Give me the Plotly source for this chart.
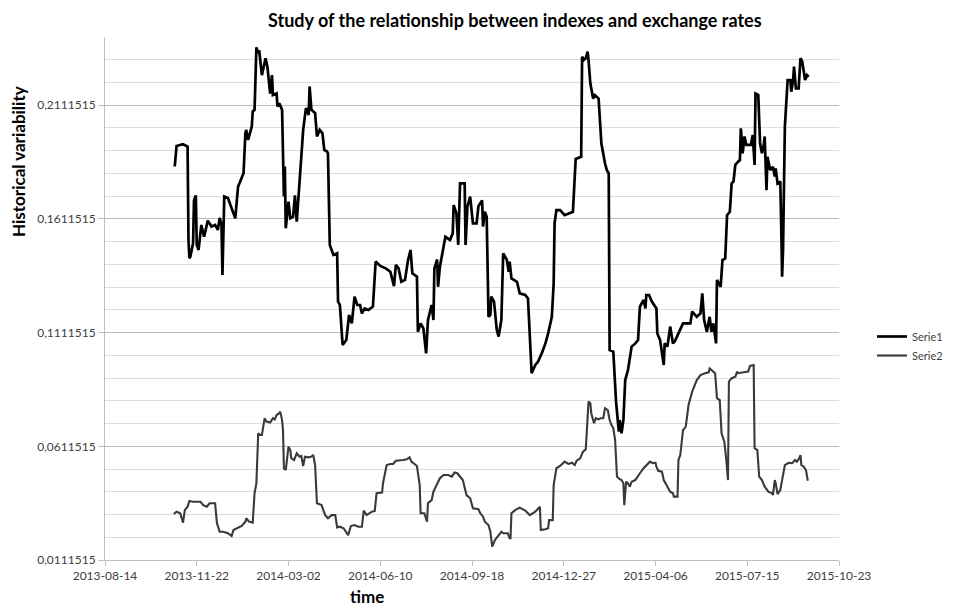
import pandas as pd
import plotly.graph_objects as go

# ---- data ----
start_date = "2013-08-14"

s1_day = [76, 78, 85, 90, 91, 92, 93, 96, 97, 99, 100, 102, 105, 108, 112, 116, 120, 123, 125, 127,
          128, 130, 134, 142, 145, 151, 153, 154, 156, 160, 161, 163, 165, 167, 168, 171, 175, 177, 180, 182,
          183, 187, 188, 190, 193, 194, 195, 196, 197, 200, 202, 205, 207, 209, 211, 214, 216, 219, 222, 223,
          225, 229, 231, 234, 237, 239, 242, 243, 245, 249, 253, 254, 256, 259, 263, 266, 269, 272, 275, 278,
          280, 283, 287, 292, 295, 300, 306, 311, 315, 317, 320, 323, 327, 330, 333, 335, 340, 341, 344, 347,
          350, 352, 356, 358, 359, 362, 363, 365, 371, 376, 379, 380, 383, 385, 387, 392, 393, 395, 398, 401,
          405, 407, 411, 412, 414, 416, 418, 420, 421, 424, 427, 429, 432, 434, 438, 440, 441, 443, 449, 452,
          458, 461, 463, 465, 469, 472, 476, 480, 483, 487, 489, 490, 492, 496, 501, 507, 510, 513, 518, 519,
          520, 522, 524, 526, 527, 529, 532, 534, 538, 540, 541, 545, 547, 549, 550, 554, 557, 560, 561, 563,
          565, 567, 570, 574, 578, 581, 583, 587, 589, 590, 593, 596, 601, 602, 605, 609, 610, 613, 616, 619,
          621, 625, 630, 638, 640, 645, 649, 651, 653, 656, 659, 661, 663, 666, 667, 671, 673, 676, 678, 681,
          683, 685, 687, 690, 692, 693, 695, 697, 699, 701, 704, 706, 708, 709, 712, 714, 716, 718, 719, 721,
          722, 725, 728, 730, 731, 733, 736, 737, 738, 739, 741, 744, 747, 748, 750, 751, 753, 756, 758, 760,
          763, 765, 767]
s1_val = [0.1842, 0.1932, 0.1940, 0.1930, 0.1519, 0.1439, 0.1445, 0.1504, 0.1693, 0.1715, 0.1497, 0.1475, 0.1585, 0.1533, 0.1604, 0.1578, 0.1585, 0.1563, 0.1616, 0.1585,
          0.1365, 0.1710, 0.1703, 0.1614, 0.1753, 0.1812, 0.1988, 0.2003, 0.1959, 0.2018, 0.2084, 0.2091, 0.2366, 0.2340, 0.2354, 0.2244, 0.2318, 0.2281, 0.2163, 0.2244,
          0.2156, 0.2163, 0.2106, 0.2120, 0.2091, 0.1842, 0.1710, 0.1842, 0.1570, 0.1687, 0.1614, 0.1621, 0.1715, 0.1599, 0.1710, 0.1885, 0.2003, 0.2099, 0.2069, 0.2194,
          0.2091, 0.2077, 0.1974, 0.2003, 0.1988, 0.1915, 0.1908, 0.1900, 0.1497, 0.1453, 0.1460, 0.1248, 0.1233, 0.1057, 0.1079, 0.1189, 0.1152, 0.1270, 0.1233, 0.1233,
          0.1196, 0.1218, 0.1211, 0.1226, 0.1424, 0.1405, 0.1394, 0.1379, 0.1316, 0.1409, 0.1394, 0.1335, 0.1343, 0.1424, 0.1475, 0.1372, 0.1357, 0.1115, 0.1152, 0.1130,
          0.1020, 0.1167, 0.1233, 0.1167, 0.1394, 0.1433, 0.1313, 0.1401, 0.1533, 0.1519, 0.1548, 0.1672, 0.1636, 0.1497, 0.1768, 0.1768, 0.1497, 0.1665, 0.1710, 0.1592,
          0.1592, 0.1667, 0.1693, 0.1578, 0.1643, 0.1621, 0.1181, 0.1189, 0.1270, 0.1248, 0.1124, 0.1094, 0.1167, 0.1460, 0.1431, 0.1379, 0.1424, 0.1350, 0.1335, 0.1284,
          0.1277, 0.1262, 0.1124, 0.0933, 0.0969, 0.0984, 0.1020, 0.1064, 0.1108, 0.1181, 0.1328, 0.1592, 0.1650, 0.1650, 0.1628, 0.1636, 0.1643, 0.1875, 0.1882, 0.1885,
          0.2325, 0.2311, 0.2318, 0.2347, 0.2311, 0.2207, 0.2141, 0.2156, 0.2141, 0.2031, 0.1943, 0.1855, 0.1826, 0.1812, 0.1035, 0.1028, 0.0808, 0.0676, 0.0727, 0.0669,
          0.0727, 0.0903, 0.0947, 0.1050, 0.1064, 0.1079, 0.1226, 0.1255, 0.1218, 0.1277, 0.1277, 0.1248, 0.1218, 0.1108, 0.1079, 0.0969, 0.1064, 0.1050, 0.1138, 0.1064,
          0.1072, 0.1108, 0.1152, 0.1152, 0.1204, 0.1181, 0.1196, 0.1284, 0.1167, 0.1115, 0.1181, 0.1115, 0.1152, 0.1064, 0.1343, 0.1313, 0.1431, 0.1438, 0.1628, 0.1643,
          0.1768, 0.1776, 0.1849, 0.1863, 0.1870, 0.2010, 0.1900, 0.1974, 0.1937, 0.1937, 0.1937, 0.1980, 0.1849, 0.2163, 0.2156, 0.1943, 0.1900, 0.1937, 0.1974, 0.1738,
          0.1885, 0.1826, 0.1841, 0.1798, 0.1834, 0.1768, 0.1776, 0.1585, 0.1357, 0.1475, 0.2018, 0.2222, 0.2222, 0.2171, 0.2222, 0.2281, 0.2186, 0.2186, 0.2318, 0.2303,
          0.2222, 0.2244, 0.2237]

s2_day = [75, 78, 82, 85, 87, 90, 92, 96, 104, 107, 111, 114, 120, 122, 125, 129, 134, 138, 140, 144,
          149, 153, 154, 157, 161, 163, 165, 167, 169, 171, 174, 176, 180, 183, 185, 187, 190, 191, 193, 194,
          195, 197, 200, 202, 203, 206, 209, 212, 214, 216, 218, 222, 225, 227, 229, 231, 236, 240, 243, 247,
          251, 253, 256, 260, 263, 265, 268, 272, 276, 280, 282, 285, 291, 294, 296, 302, 303, 307, 311, 314,
          317, 322, 325, 329, 332, 334, 336, 340, 343, 344, 348, 351, 352, 356, 358, 362, 365, 369, 374, 378,
          381, 384, 387, 390, 394, 398, 401, 407, 409, 412, 414, 418, 420, 422, 425, 429, 432, 434, 439, 441,
          442, 443, 447, 452, 458, 463, 469, 474, 475, 480, 483, 484, 488, 489, 492, 496, 501, 505, 509, 512,
          514, 518, 521, 524, 527, 529, 530, 533, 535, 538, 540, 543, 545, 548, 550, 552, 554, 556, 558, 561,
          563, 565, 566, 568, 570, 572, 574, 578, 581, 583, 587, 590, 594, 597, 600, 601, 603, 607, 609, 612,
          616, 619, 620, 624, 625, 627, 630, 633, 636, 638, 640, 645, 649, 654, 658, 659, 663, 665, 667, 670,
          672, 675, 677, 679, 680, 683, 687, 689, 690, 696, 701, 703, 707, 708, 711, 713, 716, 719, 723, 727,
          728, 730, 731, 733, 736, 738, 741, 745, 749, 752, 754, 756, 758, 759, 761, 764, 766]
s2_val = [0.0314, 0.0324, 0.0317, 0.0276, 0.0331, 0.0346, 0.0371, 0.0368, 0.0368, 0.0353, 0.0346, 0.0361, 0.0361, 0.0273, 0.0236, 0.0236, 0.0229, 0.0217, 0.0243, 0.0251,
          0.0261, 0.0280, 0.0295, 0.0280, 0.0276, 0.0405, 0.0449, 0.0669, 0.0661, 0.0661, 0.0735, 0.0720, 0.0716, 0.0735, 0.0730, 0.0749, 0.0757, 0.0764, 0.0727, 0.0683,
          0.0515, 0.0507, 0.0610, 0.0595, 0.0559, 0.0551, 0.0581, 0.0566, 0.0569, 0.0525, 0.0566, 0.0563, 0.0566, 0.0573, 0.0529, 0.0361, 0.0353, 0.0309, 0.0295, 0.0309,
          0.0309, 0.0255, 0.0258, 0.0251, 0.0236, 0.0221, 0.0261, 0.0265, 0.0258, 0.0258, 0.0329, 0.0309, 0.0324, 0.0327, 0.0405, 0.0408, 0.0449, 0.0529, 0.0534, 0.0534,
          0.0548, 0.0548, 0.0551, 0.0554, 0.0563, 0.0544, 0.0537, 0.0525, 0.0441, 0.0317, 0.0317, 0.0280, 0.0361, 0.0375, 0.0412, 0.0449, 0.0471, 0.0485, 0.0485, 0.0478,
          0.0496, 0.0493, 0.0478, 0.0463, 0.0397, 0.0383, 0.0339, 0.0335, 0.0317, 0.0302, 0.0280, 0.0265, 0.0236, 0.0170, 0.0199, 0.0221, 0.0236, 0.0229, 0.0229, 0.0207,
          0.0207, 0.0317, 0.0331, 0.0342, 0.0329, 0.0309, 0.0324, 0.0346, 0.0243, 0.0247, 0.0251, 0.0287, 0.0287, 0.0441, 0.0515, 0.0525, 0.0544, 0.0534, 0.0539, 0.0529,
          0.0548, 0.0559, 0.0588, 0.0598, 0.0808, 0.0801, 0.0757, 0.0713, 0.0735, 0.0730, 0.0735, 0.0735, 0.0779, 0.0771, 0.0727, 0.0705, 0.0691, 0.0639, 0.0478, 0.0467,
          0.0463, 0.0449, 0.0353, 0.0456, 0.0449, 0.0434, 0.0456, 0.0463, 0.0485, 0.0493, 0.0515, 0.0529, 0.0544, 0.0537, 0.0539, 0.0522, 0.0504, 0.0500, 0.0463, 0.0441,
          0.0412, 0.0405, 0.0390, 0.0390, 0.0551, 0.0573, 0.0683, 0.0698, 0.0793, 0.0823, 0.0852, 0.0903, 0.0925, 0.0933, 0.0937, 0.0954, 0.0940, 0.0933, 0.0823, 0.0815,
          0.0669, 0.0632, 0.0559, 0.0463, 0.0896, 0.0911, 0.0918, 0.0940, 0.0933, 0.0936, 0.0940, 0.0965, 0.0969, 0.0603, 0.0595, 0.0478, 0.0463, 0.0434, 0.0412, 0.0405,
          0.0397, 0.0463, 0.0449, 0.0401, 0.0419, 0.0463, 0.0529, 0.0539, 0.0537, 0.0551, 0.0544, 0.0554, 0.0573, 0.0529, 0.0525, 0.0507, 0.0460]

y_ticks = [0.0111515, 0.0611515, 0.1111515, 0.1611515, 0.2111515]
y_tick_text = ["0,0111515", "0,0611515", "0,1111515", "0,1611515", "0,2111515"]
x_ticks = ["2013-08-14", "2013-11-22", "2014-03-02", "2014-06-10", "2014-09-18",
           "2014-12-27", "2015-04-06", "2015-07-15", "2015-10-23"]

title_text = "Study of the relationship between indexes and exchange rates"
y_title = "Historical variability"
x_title = "time"

# ---- build ----
t0 = pd.Timestamp(start_date)
s1_dates = [t0 + pd.Timedelta(days=d) for d in s1_day]
s2_dates = [t0 + pd.Timedelta(days=d) for d in s2_day]

OFF = 8  # page body margin of the html output
W, H = 953 - 2 * OFF, 608 - OFF
ml, mt = 105 - OFF, 37 - OFF
pw, ph = 839 - 105, 560 - 37
mr, mb = W - ml - pw, H - mt - ph


def px(x_screen):
    return (x_screen - OFF - ml) / pw


def py(y_screen):
    return 1 - (y_screen - OFF - mt) / ph


FONT = "Lato, 'Open Sans', sans-serif"

fig = go.Figure()
fig.add_trace(go.Scatter(x=s1_dates, y=s1_val, mode="lines", name="Serie1",
                         line=dict(color="#000000", width=2.7)))
fig.add_trace(go.Scatter(x=s2_dates, y=s2_val, mode="lines", name="Serie2",
                         line=dict(color="#3a3a3a", width=2.1)))

fig.update_layout(
    width=W, height=H,
    margin=dict(l=ml, r=mr, t=mt, b=mb, pad=0, autoexpand=False),
    paper_bgcolor="white", plot_bgcolor="white",
    font=dict(family=FONT, size=12, color="#404040"),
    showlegend=True,
    legend=dict(x=px(872), y=py(322), xanchor="left", yanchor="top",
                font=dict(family=FONT, size=11, color="#404040"),
                bgcolor="rgba(0,0,0,0)", tracegroupgap=0, itemwidth=30),
)

fig.update_xaxes(
    type="date",
    range=[x_ticks[0], x_ticks[-1]],
    tickmode="array", tickvals=x_ticks, ticktext=x_ticks,
    showgrid=False, zeroline=False,
    showline=True, linecolor="#bfbfbf", linewidth=1,
    ticks="outside", ticklen=5, tickcolor="#bfbfbf",
    tickfont=dict(family=FONT, size=12, color="#404040"),
)

fig.update_yaxes(
    range=[0.0111515, 0.2411515],
    tickmode="array", tickvals=y_ticks, ticktext=y_tick_text,
    showgrid=True, gridcolor="#bcbcbc", gridwidth=1,
    minor=dict(tickmode="linear", tick0=0.0111515, dtick=0.01,
               showgrid=True, gridcolor="#dcdcdc", gridwidth=1, ticks=""),
    zeroline=False,
    showline=True, linecolor="#bfbfbf", linewidth=1,
    ticks="outside", ticklen=6, tickcolor="#bfbfbf",
    tickfont=dict(family=FONT, size=12, color="#404040"),
)

fig.add_annotation(text="<b>%s</b>" % title_text, xref="paper", yref="paper",
                   x=px(515), y=py(20), xanchor="center", yanchor="middle", showarrow=False,
                   font=dict(family=FONT, size=18, color="#000000"))
fig.add_annotation(text="<b>%s</b>" % y_title, xref="paper", yref="paper",
                   x=px(18), y=py(162), xanchor="center", yanchor="middle",
                   textangle=-90, showarrow=False,
                   font=dict(family=FONT, size=17, color="#000000"))
fig.add_annotation(text="<b>%s</b>" % x_title, xref="paper", yref="paper",
                   x=px(367), y=py(596), xanchor="center", yanchor="middle", showarrow=False,
                   font=dict(family=FONT, size=17, color="#000000"))

fig.write_html("out.html")
